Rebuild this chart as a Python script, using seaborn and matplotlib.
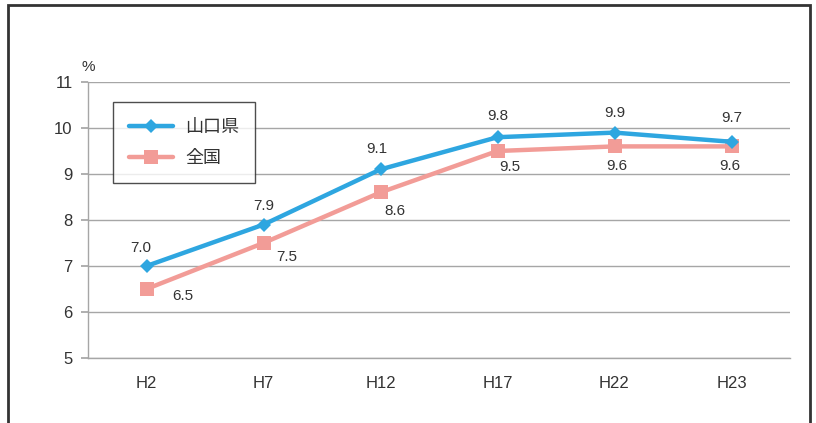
import matplotlib
matplotlib.use("Agg")
import matplotlib.pyplot as plt
import seaborn as sns
import pandas as pd
from matplotlib.patches import Rectangle
from matplotlib.lines import Line2D

# Data
years = ["H2", "H7", "H12", "H17", "H22", "H23"]
yamaguchi = [7.0, 7.9, 9.1, 9.8, 9.9, 9.7]
national = [6.5, 7.5, 8.6, 9.5, 9.6, 9.6]
series_names = ["山口県", "全国"]

sns.set_theme(style="white")
plt.rcParams["font.family"] = ["Noto Sans CJK JP", "DejaVu Sans"]

df = pd.DataFrame({
    "year": years * 2,
    "value": yamaguchi + national,
    "series": [series_names[0]] * len(years) + [series_names[1]] * len(years),
})
df["x"] = df.groupby("series").cumcount()

blue = "#2EA6E0"
pink = "#F29C97"
grid = "#A6A6A6"
text_color = "#333333"

fig = plt.figure(figsize=(8.16, 4.23), dpi=100)
ax = fig.add_axes([88 / 816, 1 - 358 / 423, 702 / 816, 276 / 423])

sns.lineplot(
    data=df, x="x", y="value", hue="series", style="series",
    markers={series_names[0]: "D", series_names[1]: "s"},
    dashes=False, palette={series_names[0]: blue, series_names[1]: pink},
    linewidth=3.2, markeredgewidth=0, ax=ax, legend=False,
)
# marker sizes differ per series
for line, ms in zip(ax.get_lines(), [7, 10]):
    line.set_markersize(ms)
# Yamaguchi drawn on top
ax.get_lines()[0].set_zorder(4)
ax.get_lines()[1].set_zorder(3)

ax.set_xlim(-0.5, len(years) - 0.5)
ax.set_ylim(5, 11)
ax.set_yticks(range(5, 12))
ax.set_xticks(range(len(years)))
ax.set_xticklabels(years)
ax.set_xlabel("")
ax.set_ylabel("")

tick_font = ["Liberation Sans Narrow", "Liberation Sans", "DejaVu Sans"]
for lab in ax.get_xticklabels() + ax.get_yticklabels():
    lab.set_family(tick_font)
    lab.set_fontsize(12)
    lab.set_color(text_color)

ax.yaxis.grid(True, color=grid, linewidth=1.0)
ax.xaxis.grid(False)
for side in ["top", "right"]:
    ax.spines[side].set_visible(False)
ax.spines["left"].set_color(grid)
ax.spines["bottom"].set_color(grid)
ax.spines["left"].set_linewidth(1.0)
ax.spines["bottom"].set_linewidth(1.0)
ax.tick_params(axis="y", length=5, color=grid, pad=6, left=True)
ax.tick_params(axis="x", length=0, pad=13)

ax.text(0.0, 1.054, "%", transform=ax.transAxes, ha="center", va="center",
        fontsize=11, family=tick_font, color=text_color)

# Value labels
blue_off = [(-6, 18), (0, 19), (-4, 20), (0, 21), (0, 20), (0, 24)]
pink_off = [(36, -7), (23, -14), (14, -19), (12, -16), (2, -20), (-2, -20)]
for i, (v, (dx, dy)) in enumerate(zip(yamaguchi, blue_off)):
    ax.annotate(f"{v:.1f}", (i, v), xytext=(dx, dy), textcoords="offset pixels",
                ha="center", va="center", fontsize=11, family="Liberation Sans",
                color=text_color)
for i, (v, (dx, dy)) in enumerate(zip(national, pink_off)):
    ax.annotate(f"{v:.1f}", (i, v), xytext=(dx, dy), textcoords="offset pixels",
                ha="center", va="center", fontsize=11, family="Liberation Sans",
                color=text_color)

# Legend
handles = [
    Line2D([], [], color=blue, marker="D", markersize=7, linewidth=3.2, markeredgewidth=0),
    Line2D([], [], color=pink, marker="s", markersize=10, linewidth=3.2, markeredgewidth=0),
]
leg = fig.legend(
    handles, series_names, loc="upper left",
    bbox_to_anchor=(113 / 816, 1 - 102 / 423), bbox_transform=fig.transFigure,
    frameon=True, fancybox=False, edgecolor="#222222", fontsize=13,
    handlelength=2.4, handletextpad=0.7, borderpad=0.9, labelspacing=0.7,
    borderaxespad=0,
)
leg.get_frame().set_linewidth(1.0)
for t in leg.get_texts():
    t.set_color(text_color)

# Outer frame
fig.patches.append(Rectangle((8 / 816, -0.05), 802 / 816, 0.05 + 1 - 5 / 423,
                             transform=fig.transFigure, fill=False,
                             edgecolor="#333333", linewidth=2.0))

fig.savefig("out.png", dpi=100)
